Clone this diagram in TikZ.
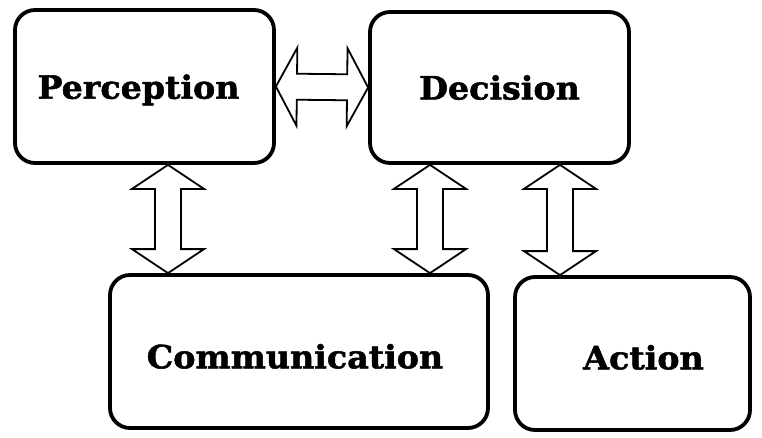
\documentclass[tikz,border=0pt]{standalone}
\usepackage{fontspec}
\setmainfont{DejaVu Serif}
\newfontfamily\heavyfont[FakeBold=1.6,FakeStretch=1.04]{DejaVu Serif Bold}
\usetikzlibrary{calc}
\tikzset{
  box/.style={draw=black, line width=3.8pt, rounded corners=20pt, fill=white,
    font=\heavyfont\fontsize{32}{36}\selectfont, inner sep=0pt},
  blk/.style={draw=black, line width=1.8pt, fill=white, line join=miter}
}
\newcommand\ah{24pt}
\newcommand\hw{36pt}
\newcommand\sw{13pt}
\newcommand\dblarrow[2]{%
  \draw[blk] (#1) -- ($(#1)!\ah!(#2)!\hw!90:(#2)$) -- ($(#1)!\ah!(#2)!\sw!90:(#2)$)
    -- ($(#2)!\ah!(#1)!\sw!-90:(#1)$) -- ($(#2)!\ah!(#1)!\hw!-90:(#1)$) -- (#2)
    -- ($(#2)!\ah!(#1)!\hw!90:(#1)$) -- ($(#2)!\ah!(#1)!\sw!90:(#1)$)
    -- ($(#1)!\ah!(#2)!\sw!-90:(#2)$) -- ($(#1)!\ah!(#2)!\hw!-90:(#2)$) -- cycle;}
\begin{document}
\begin{tikzpicture}[x=1pt,y=1pt]
  \useasboundingbox[fill=white] (0,0) rectangle (762,437);
  \node[box, minimum width=259pt, minimum height=153pt] (perc) at (144.5,350.5) {\hspace*{-12pt}\rule{0pt}{31pt}Perception};
  \node[box, minimum width=259pt, minimum height=151pt] (dec) at (499.5,349.5) {Decision};
  \node[box, minimum width=378pt, minimum height=153pt] (comm) at (299,85.5) {\hspace*{-8pt}\rule{0pt}{34pt}Communication};
  \node[box, minimum width=235pt, minimum height=153pt] (act) at (632.5,83.5) {\hspace*{22pt}\rule{0pt}{32pt}Action};
  \coordinate (v1) at (168,0);
  \coordinate (v2) at (430,0);
  \coordinate (v3) at (560,0);
  \coordinate (v1a) at (perc.south -| v1);
  \coordinate (v1b) at (comm.north -| v1);
  \coordinate (v2a) at (dec.south -| v2);
  \coordinate (v2b) at (comm.north -| v2);
  \coordinate (v3a) at (dec.south -| v3);
  \coordinate (v3b) at (act.north -| v3);
  \begingroup
  \renewcommand\ah{21pt}\renewcommand\hw{39pt}
  \dblarrow{perc.east}{dec.west}
  \endgroup
  \dblarrow{v1a}{v1b}
  \dblarrow{v2a}{v2b}
  \dblarrow{v3a}{v3b}
\end{tikzpicture}
\end{document}
